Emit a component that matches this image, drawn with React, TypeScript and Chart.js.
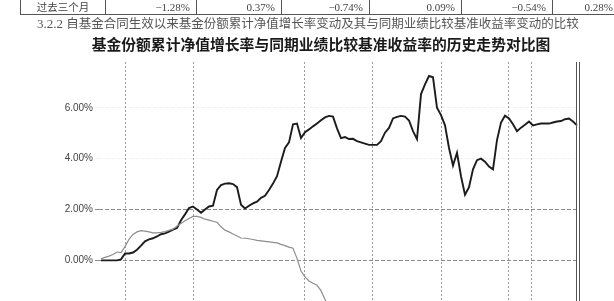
import React, { useEffect, useRef } from 'react';
import { Chart, registerables } from 'chart.js';

Chart.register(...registerables);

// Cumulative NAV growth (%) — sampled at equal trading-day steps
const navValues = [
  0.0, 0.0, 0.0, 0.0, 0.0, 0.04, 0.27, 0.27, 0.31, 0.42,
  0.58, 0.75, 0.83, 0.87, 0.94, 1.03, 1.06, 1.13, 1.21, 1.27,
  1.58, 1.81, 2.06, 2.12, 2.0, 1.87, 2.0, 2.12, 2.15, 2.77,
  2.96, 3.02, 3.03, 3.0, 2.88, 2.19, 2.04, 2.15, 2.24, 2.31,
  2.46, 2.54, 2.77, 3.02, 3.31, 3.88, 4.42, 4.64, 5.35, 5.38,
  4.81, 5.04, 5.15, 5.27, 5.38, 5.51, 5.62, 5.68, 5.65, 5.19,
  4.81, 4.85, 4.77, 4.78, 4.69, 4.64, 4.59, 4.54, 4.54, 4.54,
  4.69, 5.02, 5.21, 5.58, 5.64, 5.68, 5.65, 5.5, 5.08, 4.77,
  6.54, 6.92, 7.25, 7.2, 6.0, 5.71, 5.31, 4.42, 3.73, 4.23,
  3.31, 2.58, 2.88, 3.58, 3.94, 4.0, 3.88, 3.69, 3.58, 4.73,
  5.42, 5.69, 5.58, 5.35, 5.08, 5.22, 5.33, 5.46, 5.31, 5.35,
  5.38, 5.38, 5.38, 5.42, 5.46, 5.48, 5.55, 5.58, 5.46, 5.31,
];

// Benchmark return (%) — visible portion only (page is cut off below)
const benchValues = [
  0.06, 0.12, 0.17, 0.23, 0.33, 0.31, 0.54, 0.83, 1.02, 1.12,
  1.17, 1.15, 1.12, 1.08, 1.08, 1.1, 1.13, 1.18, 1.23, 1.35,
  1.45, 1.56, 1.65, 1.73, 1.73, 1.69, 1.62, 1.58, 1.54, 1.5,
  1.32, 1.19, 1.12, 1.04, 0.96, 0.88, 0.87, 0.85, 0.82, 0.79,
  0.77, 0.75, 0.73, 0.71, 0.69, 0.63, 0.58, 0.52, 0.48, 0.08,
  -0.42, -0.65, -0.81, -0.9, -0.98, -1.19, -1.54, -1.8,
];

const yTickValues = [-6, -4, -2, 0, 2, 4, 6];
const xGridTicks = [6, 23, 50.75, 67.75, 85, 101.75, 107.5];
const xMin = -0.5;
const xMax = 119.25;
const yMin = -6;
const yMax = 7.8;

const tableCells = ['过去三个月', '−1.28%', '0.37%', '−0.74%', '0.09%', '−0.54%', '0.28%'];
const tableEdges = [20, 105, 196, 281, 369, 461, 552, 619];
const headingText = '自基金合同生效以来基金份额累计净值增长率变动及其与同期业绩比较基准收益率变动的比较';
const titleText = '基金份额累计净值增长率与同期业绩比较基准收益率的历史走势对比图';

const rightFrame = {
  id: 'rightFrame',
  afterDraw(chart: any) {
    const { ctx, chartArea } = chart;
    ctx.save();
    ctx.strokeStyle = '#555';
    ctx.lineWidth = 1;
    ctx.beginPath();
    ctx.moveTo(Math.round(chartArea.right) - 1.5, chartArea.top);
    ctx.lineTo(Math.round(chartArea.right) - 1.5, chartArea.bottom);
    ctx.moveTo(Math.round(chartArea.right) + 1.5, chartArea.top);
    ctx.lineTo(Math.round(chartArea.right) + 1.5, chartArea.bottom);
    ctx.stroke();
    ctx.restore();
  },
};

function ChartCanvas() {
  const ref = useRef<HTMLCanvasElement | null>(null);
  useEffect(() => {
    if (!ref.current) return;
    const chart = new Chart(ref.current, {
      type: 'line',
      data: {
        datasets: [
          {
            label: '基准',
            data: benchValues.map((v, i) => ({ x: i, y: v })),
            borderColor: '#8e8e8e',
            borderWidth: 1.2,
            pointRadius: 0,
            tension: 0,
          },
          {
            label: '净值',
            data: navValues.map((v, i) => ({ x: i, y: v })),
            borderColor: '#1c1c1c',
            borderWidth: 1.9,
            pointRadius: 0,
            tension: 0,
          },
        ],
      },
      options: {
        animation: false,
        responsive: false,
        layout: { padding: { top: 62, right: 36, left: 0, bottom: 0 } },
        plugins: {
          legend: { display: false },
          tooltip: { enabled: false },
          title: { display: false },
        },
        scales: {
          x: {
            type: 'linear',
            min: xMin,
            max: xMax,
            ticks: { display: false },
            grid: { color: '#9c9c9c', lineWidth: 1, drawTicks: false },
            border: { display: false, dash: [2, 2] },
            afterBuildTicks: (s: any) => {
              s.ticks = xGridTicks.map((v) => ({ value: v }));
            },
            afterFit: (s: any) => {
              s.height = 0;
            },
          },
          y: {
            type: 'linear',
            min: yMin,
            max: yMax,
            afterBuildTicks: (s: any) => {
              s.ticks = yTickValues.map((v) => ({ value: v }));
            },
            afterFit: (s: any) => {
              s.width = 99;
            },
            ticks: {
              callback: (v: any) => Number(v).toFixed(2) + '%',
              color: '#444',
              font: { family: 'Liberation Sans', size: 10 },
              padding: 2,
            },
            grid: {
              color: (c: any) =>
                c.tick && (c.tick.value === 0 || c.tick.value === 2) ? '#8a8a8a' : 'rgba(0,0,0,0.06)',
              lineWidth: 1,
              tickLength: 4,
            },
            border: { display: false, dash: [4, 2] },
          },
        },
      },
      plugins: [rightFrame],
    } as any);
    return () => chart.destroy();
  }, []);
  return <canvas ref={ref} width={614} height={421} style={{ position: 'absolute', left: 0, top: 0 }} />;
}

export default function App() {
  return (
    <div
      style={{
        position: 'absolute',
        left: 0,
        top: 0,
        width: 614,
        height: 301,
        overflow: 'hidden',
        background: '#fff',
      }}
    >
      <ChartCanvas />
      {/* table row */}
      <div style={{ position: 'absolute', left: tableEdges[0], top: 14, width: 614 - tableEdges[0], height: 1, background: '#555' }} />
      {tableEdges.slice(0, 7).map((x, i) => (
        <div key={'b' + i} style={{ position: 'absolute', left: x, top: 0, width: 1, height: 15, background: '#555' }} />
      ))}
      {tableCells.map((t, i) => (
        <div
          key={'c' + i}
          style={{
            position: 'absolute',
            left: tableEdges[i] + 1,
            top: 0,
            width: tableEdges[i + 1] - tableEdges[i] - 1,
            height: 14,
            lineHeight: '14px',
            fontSize: i === 0 ? 10.5 : 11,
            fontFamily: i === 0 ? '"Noto Sans CJK SC"' : '"Liberation Serif"',
            color: '#444',
            textAlign: i === 0 ? 'center' : 'right',
            paddingRight: i === 0 ? 0 : 6,
            boxSizing: 'border-box',
            whiteSpace: 'nowrap',
            overflow: 'visible',
          }}
        >
          {t}
        </div>
      ))}
      {/* heading */}
      <div
        style={{
          position: 'absolute',
          left: 37,
          top: 15,
          height: 16,
          lineHeight: '16px',
          fontSize: 12.5,
          color: '#555',
          whiteSpace: 'nowrap',
          fontFamily: '"Noto Sans CJK SC"',
        }}
      >
        <span style={{ fontFamily: '"Liberation Serif"', fontSize: 13 }}>3.2.2 </span>
        {headingText}
      </div>
      {/* chart title */}
      <div
        style={{
          position: 'absolute',
          left: 0,
          top: 35,
          width: 642,
          textAlign: 'center',
          height: 18,
          lineHeight: '18px',
          fontSize: 14.8,
          fontWeight: 700,
          color: '#1a1a1a',
          whiteSpace: 'nowrap',
          fontFamily: '"Noto Sans CJK SC"',
        }}
      >
        {titleText}
      </div>
    </div>
  );
}
